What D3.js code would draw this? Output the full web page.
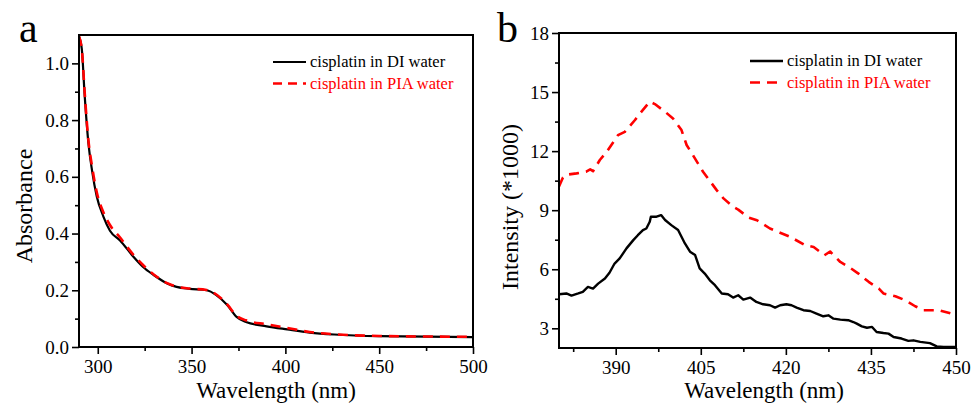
<!DOCTYPE html>
<html>
<head>
<meta charset="utf-8">
<script src="https://cdn.jsdelivr.net/npm/d3@7"></script>
<style>
    body { margin: 0; background: #fff; }
    svg, svg text { font-family: "Liberation Serif", "Times New Roman", Tinos, "DejaVu Serif", serif !important; }
</style>
</head>
<body>
<div id="main"></div>
<script>
// ---- data ----
var seriesNames = ["cisplatin in DI water", "cisplatin in PIA water"];

// (a) UV-vis absorbance
var absWavelength = [290, 291.5, 293, 295, 297, 299.5, 303, 306.5, 312, 319, 324, 330, 337, 342, 349, 358, 363, 369, 374, 379, 390, 401, 413, 426, 450, 500];
var absDI  = [1.095, 1.05, 0.89, 0.72, 0.62, 0.53, 0.46, 0.41, 0.375, 0.318, 0.283, 0.253, 0.224, 0.212, 0.205, 0.2, 0.184, 0.148, 0.106, 0.088, 0.073, 0.062, 0.051, 0.044, 0.038, 0.035];
var absPIA = [1.095, 1.05, 0.9, 0.73, 0.635, 0.545, 0.475, 0.43, 0.385, 0.325, 0.29, 0.255, 0.225, 0.213, 0.206, 0.201, 0.186, 0.15, 0.11, 0.094, 0.08, 0.067, 0.053, 0.045, 0.039, 0.036];
var absXTicks = [300, 350, 400, 450, 500];
var absXMinor = [325, 375, 425, 475];
var absYTicks = [0, 0.2, 0.4, 0.6, 0.8, 1.0];
var absYMinor = [0.1, 0.3, 0.5, 0.7, 0.9];

// (b) fluorescence intensity (*1000)
var flWavelengthDI = [380, 381.3, 382.2, 383.4, 384.2, 385.1, 386, 386.9, 388.1, 388.9, 389.8, 390.7, 391.9, 393.1, 393.9, 394.8, 395.4, 396, 396.2, 397.2, 398, 398.7, 399.8, 401, 401.6, 402.2, 403.1, 404, 404.8, 405.7, 406.6, 407.5, 408.7, 409.8, 410.7, 411.6, 412.5, 413.7, 414.8, 416, 417.2, 418.1, 419, 420.1, 421, 421.9, 423.1, 424.3, 425.4, 426.6, 427.5, 428.4, 429.6, 431, 431.9, 432.5, 433.4, 434.3, 435.2, 436, 437.2, 438.1, 439, 440.4, 441.6, 442.5, 443.7, 445.4, 446.6, 447.8, 450];
var flDI = [4.73, 4.77, 4.66, 4.77, 4.85, 5.1, 5.02, 5.27, 5.53, 5.82, 6.29, 6.55, 7.06, 7.48, 7.73, 7.99, 8.07, 8.41, 8.67, 8.67, 8.75, 8.5, 8.24, 7.99, 7.65, 7.31, 6.89, 6.72, 6.04, 5.78, 5.44, 5.19, 4.77, 4.73, 4.56, 4.68, 4.46, 4.56, 4.34, 4.22, 4.17, 4.05, 4.17, 4.22, 4.17, 4.05, 3.92, 3.88, 3.75, 3.61, 3.66, 3.49, 3.44, 3.41, 3.32, 3.24, 3.1, 3.03, 3.07, 2.81, 2.76, 2.73, 2.56, 2.48, 2.36, 2.39, 2.31, 2.25, 2.08, 2.05, 2.05];
var flWavelengthPIA = [380, 380.7, 381.3, 383.1, 384.8, 385.5, 386, 387.2, 388.4, 390.4, 391.6, 393.4, 394.3, 396, 396.9, 398.7, 400.1, 401.6, 402.5, 403.4, 405.4, 407.8, 409, 410.7, 411.6, 413.4, 414.9, 417.2, 420.8, 423.4, 424.9, 426.8, 427.8, 429.6, 431.1, 432.8, 434.6, 436.4, 437.2, 439.3, 441.1, 442.8, 444.3, 447, 450];
var flPIA = [10.2, 10.66, 10.8, 10.87, 10.96, 11.07, 10.98, 11.55, 11.96, 12.81, 12.98, 13.58, 13.92, 14.51, 14.39, 14.0, 13.66, 13.07, 12.31, 11.9, 10.95, 10.02, 9.6, 9.17, 9.03, 8.63, 8.49, 8.07, 7.64, 7.22, 7.13, 6.71, 6.9, 6.37, 6.12, 5.78, 5.36, 5.02, 4.77, 4.63, 4.42, 4.12, 3.92, 3.92, 3.68];
var flXTicks = [390, 405, 420, 435, 450];
var flXMinor = [382.5, 397.5, 412.5, 427.5, 442.5];
var flYTicks = [3, 6, 9, 12, 15, 18];
var flYMinor = [4.5, 7.5, 10.5, 13.5, 16.5];

var ctx = {
    w: 973,
    h: 412,
    font: '"Liberation Serif", "Times New Roman", Tinos, "DejaVu Serif", serif',
};

var zip = function (xs, ys) {
    return xs.map((x, i) => ({ x: x, y: ys[i] }));
};

var drawPanel = function (svg, p) {
    var x = d3.scaleLinear().domain(p.xDomain).range([p.left, p.right]);
    var y = d3.scaleLinear().domain(p.yDomain).range([p.bottom, p.top]);

    var g = svg.append("g");

    g.append("clipPath")
        .attr("id", "clip-" + p.id)
        .append("rect")
        .attr("x", p.left)
        .attr("y", p.top)
        .attr("width", p.right - p.left)
        .attr("height", p.bottom - p.top);

    // minor ticks
    g.append("g")
        .attr("transform", `translate(0,${p.bottom})`)
        .call(d3.axisBottom(x).tickValues(p.xMinor).tickSize(4).tickFormat(""));
    g.append("g")
        .attr("transform", `translate(${p.left},0)`)
        .call(d3.axisLeft(y).tickValues(p.yMinor).tickSize(4).tickFormat(""));

    // major ticks
    g.append("g")
        .attr("transform", `translate(0,${p.bottom})`)
        .call(d3.axisBottom(x).tickValues(p.xTicks).tickSize(7).tickPadding(6).tickFormat(d3.format("d")));
    g.append("g")
        .attr("transform", `translate(${p.left},0)`)
        .call(d3.axisLeft(y).tickValues(p.yTicks).tickSize(7).tickPadding(3).tickFormat(p.yFormat));

    g.selectAll(".domain").remove();
    g.selectAll("g").attr("font-family", ctx.font);
    g.selectAll(".tick line").attr("stroke", "#000").attr("stroke-width", 1.6);
    g.selectAll(".tick text")
        .attr("fill", "#000")
        .attr("font-size", 19);

    // curves
    var line = d3.line()
        .x((d) => x(d.x))
        .y((d) => y(d.y))
        .curve(p.curve);

    p.series.forEach(function (s) {
        g.append("path")
            .datum(s.values)
            .attr("clip-path", "url(#clip-" + p.id + ")")
            .attr("fill", "none")
            .attr("stroke", s.color)
            .attr("stroke-width", s.width)
            .attr("stroke-dasharray", s.dash)
            .attr("stroke-linejoin", "round")
            .attr("d", line);
    });

    // frame
    g.append("rect")
        .attr("x", p.left)
        .attr("y", p.top)
        .attr("width", p.right - p.left)
        .attr("height", p.bottom - p.top)
        .attr("fill", "none")
        .attr("stroke", "#000")
        .attr("stroke-width", 2);

    // legend
    p.series.forEach(function (s, i) {
        var ly = p.legendY + i * 21.5;
        g.append("line")
            .attr("x1", p.legendX)
            .attr("x2", p.legendX + 33)
            .attr("y1", ly)
            .attr("y2", ly)
            .attr("stroke", s.color)
            .attr("stroke-width", s.width)
            .attr("stroke-dasharray", s.legendDash);
        g.append("text")
            .attr("x", p.legendX + 37)
            .attr("y", ly + 5)
            .attr("fill", s.color)
            .attr("font-family", ctx.font)
            .attr("font-size", 16.5)
            .text(s.name);
    });

    // axis titles
    g.append("text")
        .attr("x", p.xTitleX)
        .attr("y", 398)
        .attr("text-anchor", "middle")
        .attr("font-family", ctx.font)
        .attr("font-size", 23)
        .text("Wavelength (nm)");
    g.append("text")
        .attr("transform", `translate(${p.yTitleX},${p.yTitleY}) rotate(-90)`)
        .attr("text-anchor", "middle")
        .attr("font-family", ctx.font)
        .attr("font-size", 24)
        .text(p.yTitle);

    // panel letter
    g.append("text")
        .attr("x", p.letterX)
        .attr("y", 42)
        .attr("font-family", ctx.font)
        .attr("font-size", 42)
        .text(p.letter);
};

var createViz = function () {
    var svg = d3.select("#main").append("svg")
        .attr("width", ctx.w)
        .attr("height", ctx.h)
        .attr("font-family", ctx.font);

    drawPanel(svg, {
        id: "a",
        letter: "a",
        letterX: 19,
        left: 79, right: 473, top: 35, bottom: 347,
        xDomain: [290, 500], yDomain: [0, 1.1],
        xTicks: absXTicks, xMinor: absXMinor,
        yTicks: absYTicks, yMinor: absYMinor,
        yFormat: d3.format(".1f"),
        yTitle: "Absorbance",
        yTitleX: 32, yTitleY: 206,
        xTitleX: 276,
        legendX: 273, legendY: 62,
        curve: d3.curveMonotoneX,
        series: [
            { name: seriesNames[0], values: zip(absWavelength, absDI), color: "#000", width: 2.2, dash: null, legendDash: null },
            { name: seriesNames[1], values: zip(absWavelength, absPIA), color: "#f00", width: 2.6, dash: "10,7", legendDash: "9,6" },
        ],
    });

    drawPanel(svg, {
        id: "b",
        letter: "b",
        letterX: 497,
        left: 559, right: 956, top: 33, bottom: 348,
        xDomain: [380, 450], yDomain: [2, 18],
        xTicks: flXTicks, xMinor: flXMinor,
        yTicks: flYTicks, yMinor: flYMinor,
        yFormat: d3.format("d"),
        yTitle: "Intensity (*1000)",
        yTitleX: 518, yTitleY: 207,
        xTitleX: 764,
        legendX: 750, legendY: 61,
        curve: d3.curveLinear,
        series: [
            { name: seriesNames[0], values: zip(flWavelengthDI, flDI), color: "#000", width: 2.4, dash: null, legendDash: null },
            { name: seriesNames[1], values: zip(flWavelengthPIA, flPIA), color: "#f00", width: 2.6, dash: "10,7", legendDash: "10,7" },
        ],
    });
};

createViz();
</script>
</body>
</html>
